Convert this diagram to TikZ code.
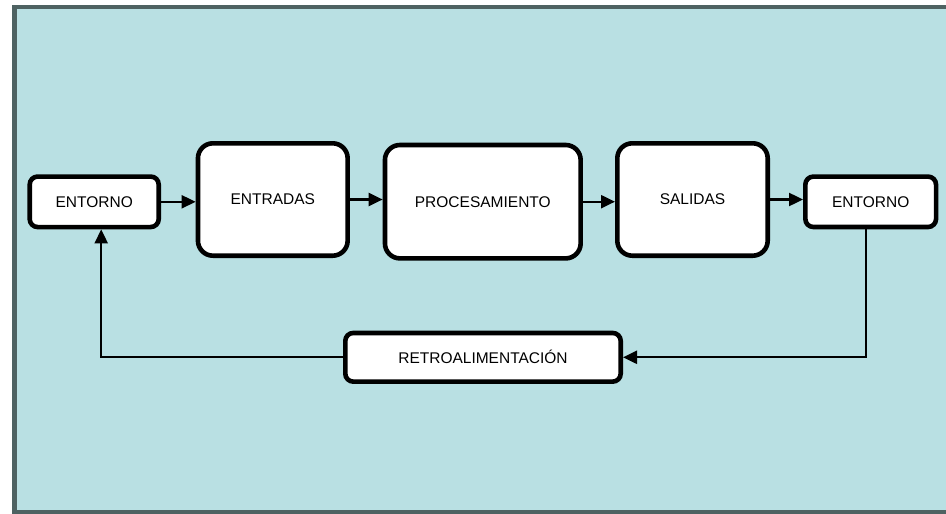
\documentclass[tikz,border=0pt]{standalone}
\usepackage{fontspec}
\setmainfont{Liberation Sans}
\usetikzlibrary{arrows.meta,calc}
\definecolor{bgfill}{HTML}{B9E0E3}
\definecolor{frame}{HTML}{4E6262}
\begin{document}
\begin{tikzpicture}[x=1pt,y=-1pt,
  box/.style={draw=black,fill=white,line width=4.6pt,rounded corners=#1,
    inner sep=0pt,font=\fontsize{15.5}{18}\selectfont},
  box/.default=8pt,
  arr/.style={line width=2.2pt,-{Triangle[length=14pt,width=13pt]}},
  line/.style={line width=2.2pt}]
\useasboundingbox (0,0) rectangle (946,514);
\clip (0,0) rectangle (946,514);
\draw[frame,fill=bgfill,line width=4.6pt] (14.3,7) rectangle (975,512.5);
\node[box,minimum width=129pt,minimum height=50.5pt] (e1) at (94.2,201.8) {ENTORNO};
\node[box=15pt,minimum width=149.7pt,minimum height=112.4pt] (ent) at (272.8,199.5) {ENTRADAS};
\node[box=15pt,minimum width=195.7pt,minimum height=113.4pt] (proc) at (482.8,201.7) {PROCESAMIENTO};
\node[box=15pt,minimum width=150.4pt,minimum height=112.4pt] (sal) at (692.5,199.5) {SALIDAS};
\node[box,minimum width=130.7pt,minimum height=50.4pt] (e2) at (870.7,201.8) {ENTORNO};
\node[box,minimum width=275.4pt,minimum height=48.7pt] (retro) at (483,357.3) {RETROALIMENTACIÓN};
\draw[arr] (e1.east) -- (e1.east -| ent.west);
\draw[arr] (ent.east) -- (ent.east -| proc.west);
\draw[arr] (proc.east) -- (proc.east -| sal.west);
\draw[arr] (sal.east) -- (sal.east -| e2.west);
\coordinate (c1) at ($(e2.south)+(-5,0)$);
\coordinate (c2) at ($(e1.south)+(7,0)$);
\draw[arr] (c1) |- (retro.east);
\draw[arr] (retro.west) -| (c2);
\end{tikzpicture}
\end{document}
